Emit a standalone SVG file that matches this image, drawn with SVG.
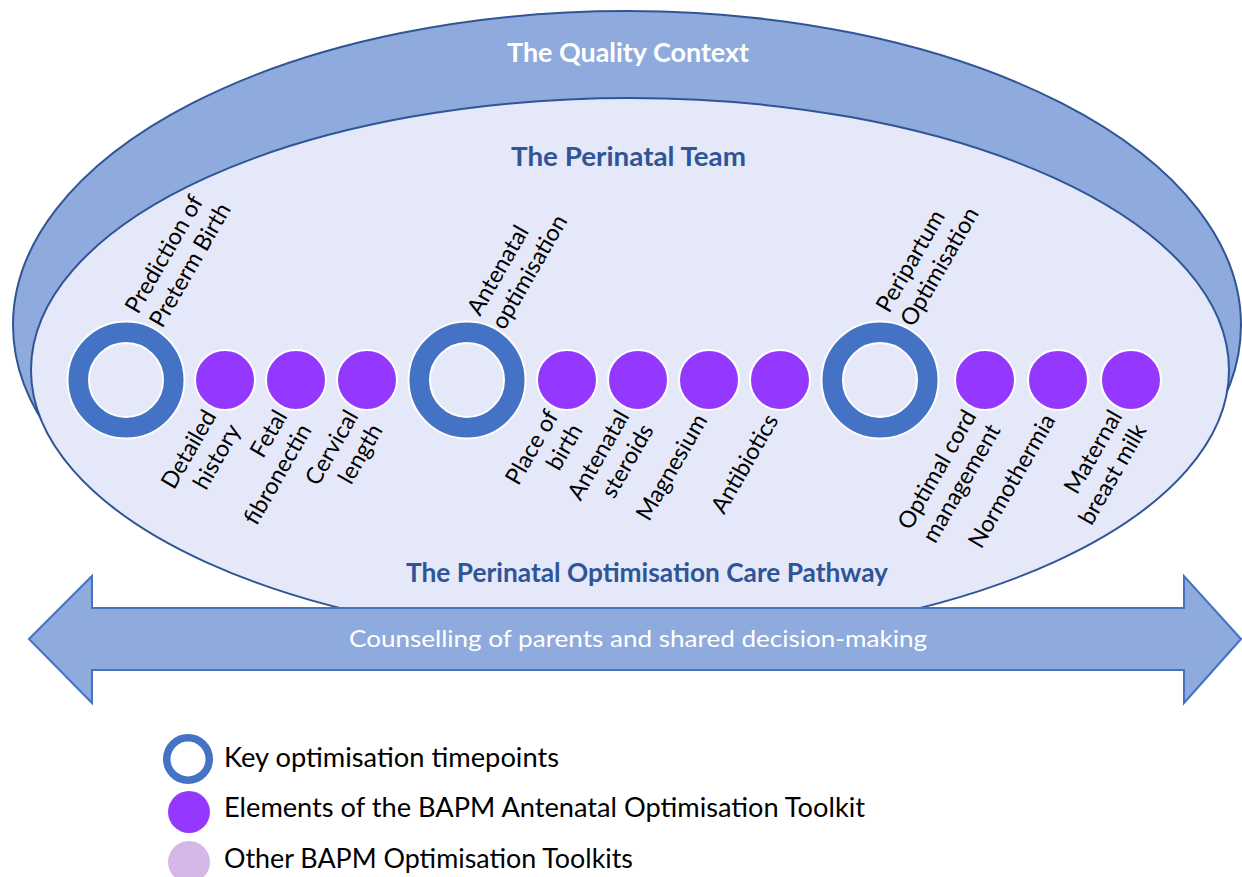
<svg xmlns="http://www.w3.org/2000/svg" width="1242" height="877" viewBox="0 0 1242 877">
<style>
.title{font-family:Lato,"Open Sans",sans-serif;font-weight:bold;font-size:27px;text-anchor:middle}
.lbl{font-family:Lato,"Open Sans",sans-serif;font-size:23.3px;fill:#000}
.end{text-anchor:end}
.leg{font-family:Lato,"Open Sans",sans-serif;font-size:27px;fill:#000}
.ring{fill:#4472C4;stroke:#fff;stroke-width:2}
.hole{fill:#E5E8F8;stroke:#fff;stroke-width:2}
.dot{fill:#9538FF;stroke:#fff;stroke-width:2}
</style>
<rect width="1242" height="877" fill="#fff"/>
<g id="quality-context">
<ellipse cx="627" cy="325" rx="614" ry="314" fill="#8FAADC" stroke="#2F5597" stroke-width="2"/>
<text class="title" x="628" y="62" fill="#fff" textLength="242" lengthAdjust="spacingAndGlyphs">The Quality Context</text>
</g>
<g id="perinatal-team">
<ellipse cx="630" cy="370" rx="599" ry="272" fill="#E5E8F8" stroke="#2F5597" stroke-width="2"/>
<text class="title" x="628.5" y="166" fill="#2F5597" textLength="235" lengthAdjust="spacingAndGlyphs">The Perinatal Team</text>
<text class="title" x="647" y="582" fill="#2F5597" textLength="482" lengthAdjust="spacingAndGlyphs">The Perinatal Optimisation Care Pathway</text>
</g>
<g id="counselling-arrow">
<polygon points="29,639 92,576 92,608 1184,608 1184,576 1241,639 1184,703 1184,670 92,670 92,703" fill="#8FAADC" stroke="#4472C4" stroke-width="2"/>
<text x="638" y="647" fill="#fff" font-family="Lato,'Open Sans',sans-serif" font-size="24" text-anchor="middle" textLength="578" lengthAdjust="spacingAndGlyphs">Counselling of parents and shared decision-making</text>
</g>
<g id="ring-prediction">
<circle class="ring" cx="126" cy="380" r="58.5"/><circle class="hole" cx="126" cy="380" r="37"/>
<text class="lbl" transform="translate(138,315) rotate(-60)"><tspan x="0" y="0">Prediction of</tspan><tspan x="0" dy="28">Preterm Birth</tspan></text>
</g>
<g id="dot-history">
<circle class="dot" cx="225" cy="380" r="30"/>
<text class="lbl end" transform="translate(217,416) rotate(-60)"><tspan x="0" y="0">Detailed</tspan><tspan x="0" dy="28">history</tspan></text>
</g>
<g id="dot-fibronectin">
<circle class="dot" cx="296" cy="380" r="30"/>
<text class="lbl end" transform="translate(288,416) rotate(-60)"><tspan x="0" y="0">Fetal</tspan><tspan x="0" dy="28">fibronectin</tspan></text>
</g>
<g id="dot-cervical">
<circle class="dot" cx="367" cy="380" r="30"/>
<text class="lbl end" transform="translate(359,416) rotate(-60)"><tspan x="0" y="0">Cervical</tspan><tspan x="0" dy="28">length</tspan></text>
</g>
<g id="ring-antenatal">
<circle class="ring" cx="467" cy="380" r="58.5"/><circle class="hole" cx="467" cy="380" r="37"/>
<text class="lbl" transform="translate(480,317) rotate(-60)"><tspan x="0" y="0">Antenatal</tspan><tspan x="0" dy="28">optimisation</tspan></text>
</g>
<g id="dot-place">
<circle class="dot" cx="567" cy="380" r="30"/>
<text class="lbl end" transform="translate(559,416) rotate(-60)"><tspan x="0" y="0">Place of</tspan><tspan x="0" dy="28">birth</tspan></text>
</g>
<g id="dot-steroids">
<circle class="dot" cx="638" cy="380" r="30"/>
<text class="lbl end" transform="translate(630,416) rotate(-60)"><tspan x="0" y="0">Antenatal</tspan><tspan x="0" dy="28">steroids</tspan></text>
</g>
<g id="dot-magnesium">
<circle class="dot" cx="709" cy="380" r="30"/>
<text class="lbl end" transform="translate(708,420) rotate(-60)">Magnesium</text>
</g>
<g id="dot-antibiotics">
<circle class="dot" cx="780" cy="380" r="30"/>
<text class="lbl end" transform="translate(779,420) rotate(-60)">Antibiotics</text>
</g>
<g id="ring-peripartum">
<circle class="ring" cx="880" cy="380" r="58.5"/><circle class="hole" cx="880" cy="380" r="37"/>
<text class="lbl" transform="translate(889,314) rotate(-60)"><tspan x="0" y="0">Peripartum</tspan><tspan x="0" dy="28">Optimisation</tspan></text>
</g>
<g id="dot-cord">
<circle class="dot" cx="985" cy="380" r="30"/>
<text class="lbl end" transform="translate(977,416) rotate(-60)"><tspan x="0" y="0">Optimal cord</tspan><tspan x="0" dy="28">management</tspan></text>
</g>
<g id="dot-normothermia">
<circle class="dot" cx="1058" cy="380" r="30"/>
<text class="lbl end" transform="translate(1056,420) rotate(-60)">Normothermia</text>
</g>
<g id="dot-milk">
<circle class="dot" cx="1131" cy="380" r="30"/>
<text class="lbl end" transform="translate(1123,416) rotate(-60)"><tspan x="0" y="0">Maternal</tspan><tspan x="0" dy="28">breast milk</tspan></text>
</g>
<g id="legend">
<circle cx="188" cy="759" r="21.25" fill="#fff" stroke="#4472C4" stroke-width="7.5"/>
<text class="leg" x="224" y="767" textLength="335" lengthAdjust="spacingAndGlyphs">Key optimisation timepoints</text>
<circle cx="189" cy="812" r="21" fill="#9538FF"/>
<text class="leg" x="224" y="817" textLength="641" lengthAdjust="spacingAndGlyphs">Elements of the BAPM Antenatal Optimisation Toolkit</text>
<circle cx="189" cy="862" r="21" fill="#D5B8E8"/>
<text class="leg" x="224" y="868" textLength="409" lengthAdjust="spacingAndGlyphs">Other BAPM Optimisation Toolkits</text>
</g>
</svg>
